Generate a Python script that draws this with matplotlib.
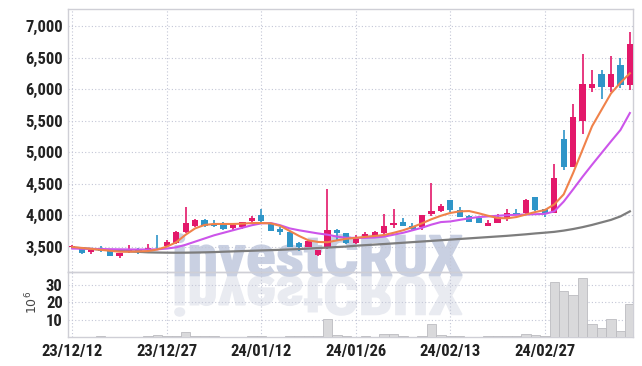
import matplotlib
matplotlib.use('Agg')
import matplotlib.pyplot as plt
from matplotlib import font_manager
from matplotlib.textpath import TextPath
from matplotlib.patches import PathPatch
from matplotlib.transforms import Affine2D
from matplotlib.font_manager import FontProperties

# daily candles (KRW), 60 sessions
opens = [3490, 3495, 3410, 3485, 3430, 3350, 3410, 3440, 3440, 3465,
         3515, 3555, 3740, 3825, 3920, 3865, 3870, 3790, 3805, 3910,
         4000, 3865, 3775, 3740, 3565, 3500, 3360, 3490, 3765, 3710,
         3555, 3675, 3675, 3720, 3845, 3895, 3830, 3815, 4015, 4065,
         4240, 4080, 3985, 3950, 3830, 3880, 3935, 4040, 4030, 4280,
         4090, 4040, 5210, 4770, 5500, 6020, 6240, 6040, 6380, 6065]
highs = [3525, 3500, 3450, 3510, 3440, 3400, 3520, 3480, 3550, 3685,
         3610, 3750, 4125, 3940, 3935, 3920, 3885, 3870, 3895, 3990,
         4090, 3870, 3810, 3745, 3580, 3595, 3450, 4410, 3780, 3715,
         3680, 3725, 3750, 4015, 4095, 3950, 3870, 4005, 4505, 4170,
         4245, 4125, 4000, 3960, 3925, 4020, 4100, 4090, 4250, 4285,
         4095, 4810, 5350, 5760, 6550, 6310, 6310, 6525, 6485, 6910]
lows = [3475, 3385, 3390, 3420, 3345, 3320, 3400, 3385, 3430, 3440,
        3500, 3550, 3720, 3805, 3815, 3810, 3770, 3760, 3780, 3895,
        3895, 3750, 3685, 3490, 3430, 3495, 3350, 3470, 3595, 3550,
        3550, 3640, 3650, 3700, 3800, 3830, 3765, 3770, 3990, 4045,
        4050, 3970, 3890, 3870, 3825, 3870, 3900, 4000, 4020, 4070,
        3975, 4030, 4715, 4760, 5290, 5960, 5850, 5960, 6010, 5985]
closes = [3515, 3395, 3445, 3425, 3350, 3395, 3455, 3430, 3485, 3455,
          3580, 3740, 3875, 3920, 3825, 3830, 3775, 3845, 3885, 3960,
          3910, 3755, 3725, 3500, 3500, 3590, 3445, 3765, 3715, 3555,
          3660, 3700, 3730, 3830, 3880, 3835, 3780, 4000, 4065, 4145,
          4080, 3975, 3895, 3880, 3880, 3975, 4030, 4010, 4240, 4080,
          4030, 4585, 4770, 5555, 6080, 6075, 6030, 6240, 6065, 6715]

# moving averages
ma_short = [3495, 3480, 3465, 3450, 3435, 3420, 3420, 3425, 3430, 3455,
            3500, 3570, 3690, 3790, 3845, 3860, 3860, 3860, 3865, 3875,
            3875, 3870, 3830, 3750, 3670, 3600, 3575, 3570, 3600, 3625,
            3640, 3655, 3670, 3685, 3720, 3760, 3810, 3870, 3935, 3990,
            4035, 4060, 4065, 4030, 3990, 3955, 3950, 3970, 4010, 4050,
            4080, 4170, 4330, 4670, 5040, 5410, 5670, 5930, 6100, 6250]
ma_mid = [3470, 3468, 3465, 3462, 3460, 3458, 3456, 3455, 3455, 3458,
          3470, 3490, 3530, 3580, 3630, 3680, 3720, 3760, 3800, 3840,
          3870, 3875, 3840, 3790, 3760, 3735, 3710, 3690, 3660, 3640,
          3640, 3640, 3645, 3660, 3690, 3720, 3760, 3800, 3850, 3890,
          3900, 3925, 3950, 3970, 3980, 3990, 4000, 4005, 4010, 4015,
          4020, 4060, 4215, 4410, 4610, 4800, 4985, 5170, 5350, 5620]
ma_long = [3485, 3475, 3465, 3455, 3445, 3435, 3425, 3418, 3410, 3407,
           3405, 3404, 3405, 3407, 3410, 3414, 3420, 3425, 3430, 3435,
           3440, 3445, 3450, 3456, 3462, 3470, 3478, 3486, 3494, 3502,
           3515, 3524, 3533, 3542, 3552, 3562, 3572, 3582, 3592, 3602,
           3612, 3622, 3632, 3642, 3652, 3662, 3672, 3684, 3696, 3710,
           3722, 3735, 3755, 3780, 3810, 3845, 3885, 3925, 3980, 4060]

# volume in millions of shares
volume = [0.1, 0.1, 0.1, 0.3, 0.1, 0.1, 0.1, 0.1, 0.3, 1.2,
          0.4, 0.4, 2.8, 0.3, 0.3, 0.3, 0.1, 0.1, 0.1, 0.3,
          0.3, 0.1, 0.1, 0.3, 0.3, 0.5, 0.5, 10.4, 0.8, 0.4,
          0.1, 0.3, 0.1, 1.5, 1.5, 0.4, 0.1, 0.7, 7.5, 0.8,
          0.4, 0.4, 0.1, 0.1, 0.3, 0.3, 0.3, 0.3, 1.5, 0.8,
          0.3, 32.2, 26.5, 24.6, 34.3, 7.5, 5.3, 10.4, 3.6, 19.1]

tick_pos = [0, 10, 20, 30, 40, 50]
tick_labels = ['23/12/12', '23/12/27', '24/01/12', '24/01/26', '24/02/13', '24/02/27']
price_ticks = [3500, 4000, 4500, 5000, 5500, 6000, 6500, 7000]
vol_ticks = [10, 20, 30]

UP = '#e3186a'
DOWN = '#2f95c8'

# pick a narrow bold face if one is around
fonts = font_manager.fontManager.ttflist
names = {f.name for f in fonts}
label_font, label_stretch = 'DejaVu Sans', 'normal'
for nm in ['Liberation Sans Narrow', 'Roboto Condensed', 'Open Sans Condensed', 'Noto Sans Condensed']:
    if nm in names:
        label_font = nm
        break
else:
    if any(f.name == 'DejaVu Sans' and f.stretch == 'condensed' for f in fonts):
        label_stretch = 'condensed'
    elif any(f.name == 'Roboto' and f.stretch == 'condensed' for f in fonts):
        label_font, label_stretch = 'Roboto', 'condensed'

fig = plt.figure(figsize=(6.42, 3.66), dpi=100)
fig.patch.set_facecolor('white')

W, H = 642, 366
left, right = 68.3, 632.7
ax = fig.add_axes([left / W, (H - 271.7) / H, (right - left) / W, 262.4 / H])
axv = fig.add_axes([left / W, (H - 336.7) / H, (right - left) / W, 65.0 / H])

# watermark and its reflection, in pixel coordinates
wm_prop = FontProperties(family=label_font, weight='bold', stretch=label_stretch)
tp = TextPath((0, 0), 'investCRUX', size=100, prop=wm_prop)
ext = tp.get_extents()
x0, x1 = 175, 462
base = H - 276
top = H - 234
sx = (x1 - x0) / ext.width
sy = (top - base) / ext.height
tr = Affine2D().translate(-ext.x0, -ext.y0).scale(sx, sy).translate(x0, base)
fig.patches.append(PathPatch(tr.transform_path(tp), facecolor='#c9d0e2', edgecolor='#c9d0e2',
                             linewidth=1.2, zorder=-2, transform=None))
tr2 = Affine2D().translate(-ext.x0, -ext.y0).scale(sx, -sy * 0.95).translate(x0, base)
fig.patches.append(PathPatch(tr2.transform_path(tp), facecolor='#e9ebf1', edgecolor='#e9ebf1',
                             linewidth=1.2, zorder=-3, transform=None))

x = list(range(len(closes)))
colors = [UP if c >= o else DOWN for o, c in zip(opens, closes)]
bottoms = [min(o, c) for o, c in zip(opens, closes)]
heights = [max(abs(c - o), 10) for o, c in zip(opens, closes)]

for a in (ax, axv):
    a.set_facecolor('none')
    a.set_xlim(-0.42, 59.3)
    for s in a.spines.values():
        s.set_color('#cfcfd6')
        s.set_linewidth(1.0)
    a.grid(True, linestyle=(0, (1, 2)), color='#c3c6d6', linewidth=0.8)
    a.set_axisbelow(True)
    a.set_xticks(tick_pos)
    a.tick_params(length=0, colors='#222222', pad=4)

lab = dict(family=label_font, weight='bold', stretch=label_stretch, fontsize=12)

ax.vlines(x, lows, highs, colors=colors, linewidth=1.2, zorder=3)
ax.bar(x, heights, bottom=bottoms, width=0.66, color=colors, zorder=4)
ax.plot(x, ma_long, color='#7d7d7d', linewidth=1.6, zorder=5)
ax.plot(x, ma_mid, color='#cc55ea', linewidth=1.5, zorder=5)
ax.plot(x, ma_short, color='#f0824a', linewidth=1.5, zorder=5)
ax.set_ylim(3103, 7265)
ax.set_yticks(price_ticks)
ax.set_yticklabels(['{:,}'.format(v) for v in price_ticks], **lab)
ax.set_xticklabels([])

axv.bar(x, volume, width=1.0, color='#d9d9db', edgecolor='#bcbcc0', linewidth=0.6, zorder=3)
axv.set_ylim(0, 38)
axv.set_yticks(vol_ticks)
axv.set_yticklabels([str(v) for v in vol_ticks], **lab)
axv.set_xticklabels(tick_labels, **lab)
axv.tick_params(axis='x', pad=5)

fig.text(32 / W, (H - 302) / H, r'$10^6$', rotation=90, ha='center', va='center',
         fontsize=9, color='#444444')

fig.savefig('out.png', dpi=100, facecolor='white')
